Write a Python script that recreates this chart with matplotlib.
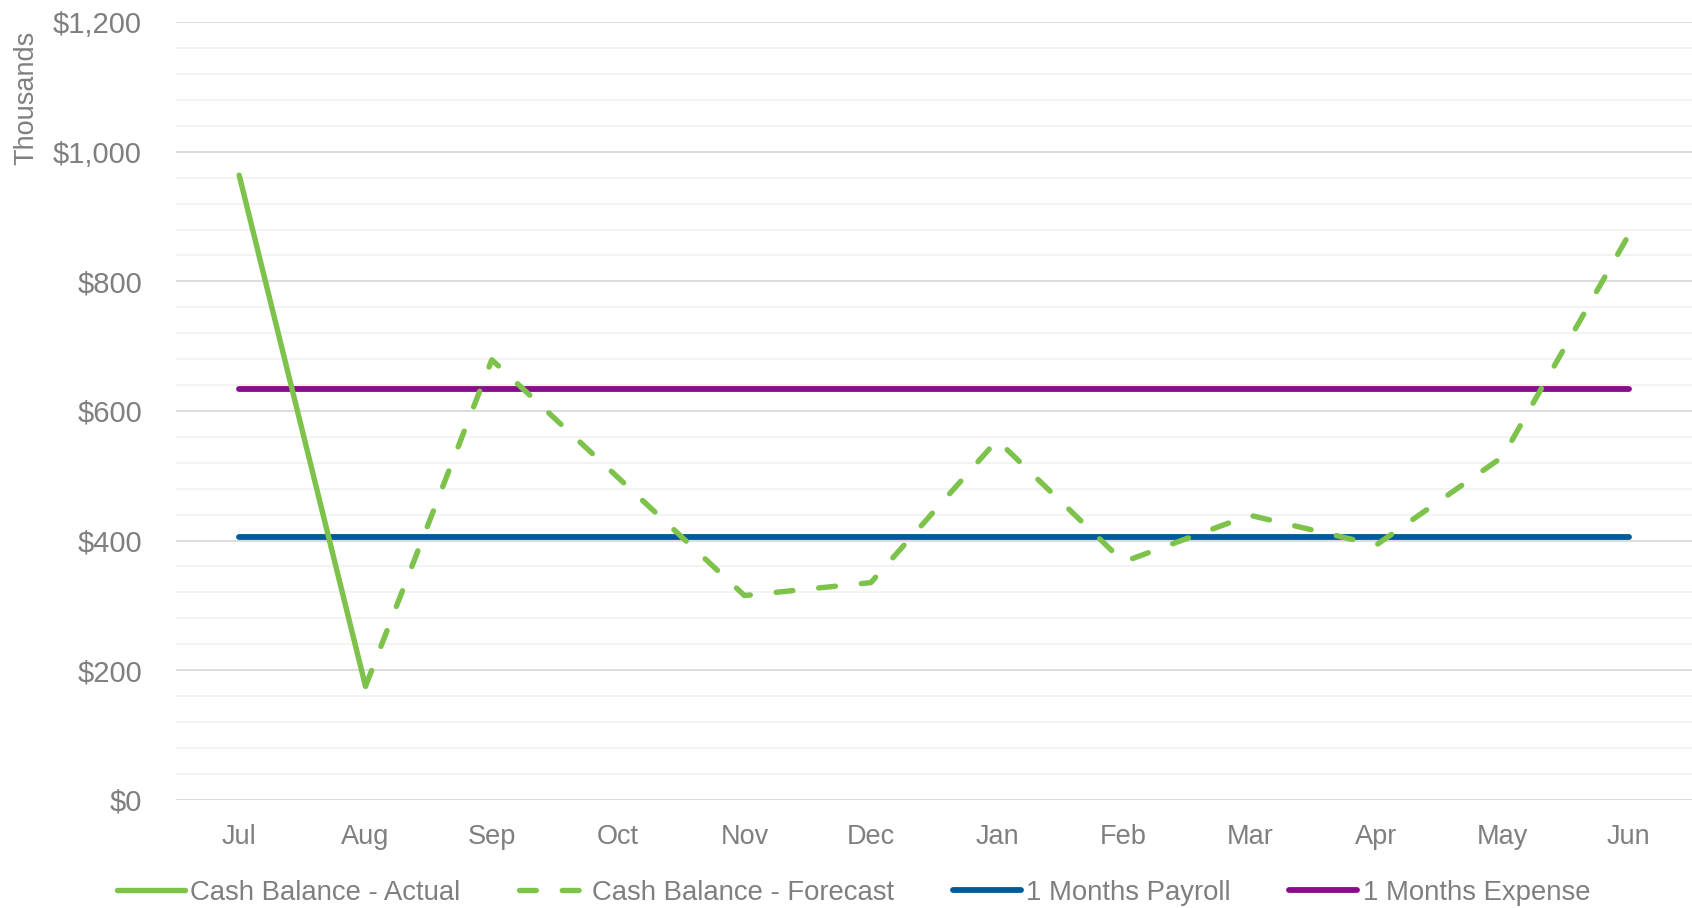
import matplotlib
matplotlib.use("Agg")
import matplotlib.pyplot as plt
from matplotlib.ticker import MultipleLocator, FuncFormatter

months = ["Jul", "Aug", "Sep", "Oct", "Nov", "Dec", "Jan", "Feb", "Mar", "Apr", "May", "Jun"]
actual = [964, 175, None, None, None, None, None, None, None, None, None, None]
forecast = [None, 175, 679, 497, 315, 335, 555, 367, 439, 393, 529, 872]
payroll = [405.5] * 12
expense = [633.5] * 12

GREEN = "#7DC24B"
BLUE = "#005B9A"
PURPLE = "#8C0A8C"
GREY = "#7F7F7F"

plt.rcParams['font.family'] = ['Liberation Sans', 'DejaVu Sans']

fig = plt.figure(figsize=(16.92, 9.08), dpi=100)
ax = fig.add_axes([176/1692, 108.4/908, 1 - 176/1692, (799.6-22.3)/908])

x = list(range(len(months)))

def series(vals):
    xs = [i for i, v in zip(x, vals) if v is not None]
    ys = [v for v in vals if v is not None]
    return xs, ys

xa, ya = series(actual)
xf, yf = series(forecast)

l1, = ax.plot(xa, ya, color=GREEN, lw=3.9, solid_capstyle='round', solid_joinstyle='round',
              label="Cash Balance - Actual", zorder=4)
l2, = ax.plot(xf, yf, color=GREEN, lw=3.9, dashes=(3.1, 4.8), dash_capstyle='round',
              dash_joinstyle='round', label="Cash Balance - Forecast", zorder=4)
l3, = ax.plot(x, payroll, color=BLUE, lw=4.2, solid_capstyle='round',
              label="1 Months Payroll", zorder=3)
l4, = ax.plot(x, expense, color=PURPLE, lw=4.2, solid_capstyle='round',
              label="1 Months Expense", zorder=3)

ax.set_xlim(-0.5, 11.5)
ax.set_ylim(0, 1200)
ax.yaxis.set_major_locator(MultipleLocator(200))
ax.yaxis.set_minor_locator(MultipleLocator(40))
ax.yaxis.set_major_formatter(FuncFormatter(lambda v, p: "${:,.0f}".format(v)))
ax.set_xticks(x)
ax.set_xticklabels(months)
ax.grid(which='major', axis='y', color='#D9D9D9', lw=1.3, zorder=1)
ax.grid(which='minor', axis='y', color='#F2F2F2', lw=1.3, zorder=0)
ax.set_axisbelow(True)
for s in ax.spines.values():
    s.set_visible(False)
ax.tick_params(axis='both', which='both', length=0, colors=GREY)
ax.tick_params(axis='y', pad=24.5, labelsize=21)
ax.tick_params(axis='x', pad=17.3, labelsize=19.5)

fig.text(26/1692, 1 - 97.7/908, "Thousands", rotation=90, ha='center', va='center',
         color=GREY, fontsize=19.5)

leg = fig.legend(handles=[l1, l2, l3, l4], loc='center', bbox_to_anchor=(0.5045, 1 - 893/908),
                 ncol=4, frameon=False, fontsize=19.8, handlelength=2.47, handletextpad=0.2,
                 columnspacing=2.12, borderpad=0, borderaxespad=0)
for t in leg.get_texts():
    t.set_color(GREY)

fig.savefig("out.png", dpi=100)
